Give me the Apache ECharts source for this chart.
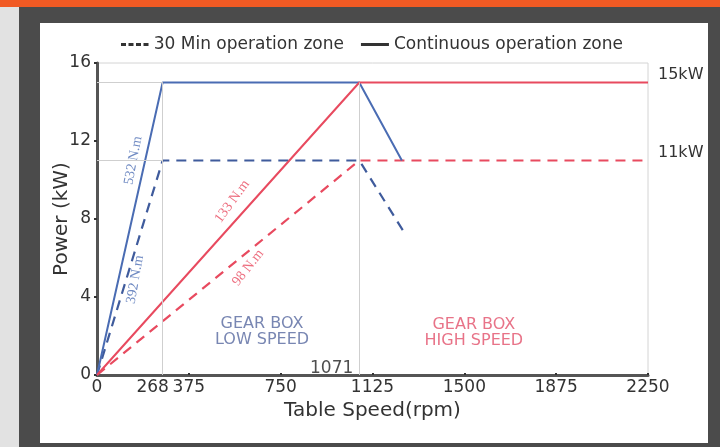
<!DOCTYPE html>
<html>
<head>
<meta charset="utf-8">
<script src="https://cdn.jsdelivr.net/npm/echarts@6/dist/echarts.min.js"></script>
<style>
  html, body { margin: 0; padding: 0; }
  #chart { width: 720px; height: 447px; }
</style>
</head>
<body>
<div id="chart"></div>
<script>
// speed (rpm) / power (kW) break points
const lowContinuous = [[0, 0], [268, 15], [1071, 15], [1245, 11]];
const lowThirtyMin = [[0, 0], [268, 11], [1071, 11], [1250, 7.4]];
const highContinuous = [[0, 0], [1071, 15], [2250, 15]];
const highThirtyMin = [[0, 0], [1071, 11], [2250, 11]];

const xLabelValues = [0, 268, 375, 750, 1125, 1500, 1875, 2250];
const xTickValues = [375, 750, 1125, 1500, 1875, 2250];
const ratedPower = [11, 15];
const baseSpeedLow = 268;
const baseSpeedHigh = 1071;

// torque notes: speed, power, text, angle, colour
const torqueNotes = [
  [148, 11.0, "532 N.m", 79, "#4a6cb3"],
  [156, 4.9, "392 N.m", 80, "#4a6cb3"],
  [552, 8.9, "133 N.m", 54, "#e84a5f"],
  [617, 5.5, "98 N.m", 52, "#e84a5f"]
];
const zoneNotes = [
  [674, 2.2, "GEAR BOX\nLOW SPEED", "#56689f"],
  [1539, 2.15, "GEAR BOX\nHIGH SPEED", "#e2506a"]
];

const BLUE = "#4a6cb3";
const RED = "#e84a5f";
const DASH = [10, 7];
const FONT = "DejaVu Sans";

const chart = echarts.init(document.getElementById("chart"));

const option = {
  backgroundColor: "#4b4b4b",
  animation: false,
  textStyle: { fontFamily: FONT },
  graphic: [
    { type: "rect", z: -10, shape: { x: 0, y: 0, width: 720, height: 7 }, style: { fill: "#f15a24" } },
    { type: "rect", z: -10, shape: { x: 0, y: 7, width: 19, height: 440 }, style: { fill: "#e2e2e2" } },
    { type: "rect", z: -10, shape: { x: 40, y: 23, width: 668, height: 420 }, style: { fill: "#ffffff" } }
  ],
  legend: {
    left: 116,
    top: 31,
    itemWidth: 28,
    itemHeight: 3,
    itemGap: 17,
    textStyle: { fontFamily: FONT, fontSize: 17, color: "#333" },
    data: [
      { name: "30 Min operation zone", icon: "path://M0,0h5v3h-5z M7.5,0h5v3h-5z M15,0h5v3h-5z M22.5,0h5v3h-5z" },
      { name: "Continuous operation zone", icon: "path://M0,0h28v3h-28z" }
    ]
  },
  grid: {
    left: 97,
    right: 72,
    top: 63,
    bottom: 72,
    show: true,
    borderColor: "#d4d4d4",
    borderWidth: 1
  },
  xAxis: {
    type: "value",
    min: 0,
    max: 2250,
    interval: 375,
    name: "Table Speed(rpm)",
    nameLocation: "middle",
    nameGap: 26,
    nameTextStyle: { fontSize: 20, color: "#333", fontFamily: FONT },
    axisLine: { show: true, lineStyle: { color: "#555", width: 3 } },
    axisTick: { show: true, length: 2, inside: true, customValues: xTickValues, lineStyle: { color: "#333", width: 2 } },
    axisLabel: {
      customValues: xLabelValues,
      fontSize: 17,
      color: "#333",
      margin: 4,
      formatter: v => (v === baseSpeedLow ? "{s|" + v + "}" : String(v)),
      rich: { s: { fontSize: 17, color: "#333", fontFamily: FONT, padding: [0, 20, 0, 0] } }
    },
    splitLine: { show: false }
  },
  yAxis: [
    {
      type: "value",
      min: 0,
      max: 16,
      interval: 4,
      name: "Power (kW)",
      nameLocation: "middle",
      nameGap: 25,
      nameMoveOverlap: false,
      nameTextStyle: { fontSize: 20, color: "#333", fontFamily: FONT },
      axisLine: { show: true, lineStyle: { color: "#555", width: 3 } },
      axisTick: { show: true, length: 3, lineStyle: { color: "#333", width: 2 } },
      axisLabel: { fontSize: 17, color: "#333", margin: 6 },
      splitLine: { show: false }
    },
    {
      type: "value",
      min: 0,
      max: 16,
      interval: 4,
      position: "right",
      axisLine: { show: false },
      axisTick: { show: false },
      splitLine: { show: false },
      axisLabel: {
        customValues: ratedPower,
        formatter: "{value}kW",
        fontSize: 16,
        color: "#333",
        margin: 10,
        verticalAlign: "bottom"
      }
    }
  ],
  series: [
    {
      name: "guides",
      type: "line",
      data: [],
      silent: true,
      markLine: {
        symbol: "none",
        silent: true,
        label: { show: false },
        lineStyle: { color: "#cfcfcf", width: 1, type: "solid" },
        data: [
          [{ coord: [baseSpeedLow, 0] }, { coord: [baseSpeedLow, 15] }],
          [{ coord: [baseSpeedHigh, 0] }, { coord: [baseSpeedHigh, 15] }],
          [{ coord: [0, 15] }, { coord: [baseSpeedLow, 15] }],
          [{ coord: [0, 11] }, { coord: [baseSpeedLow, 11] }]
        ]
      }
    },
    {
      name: "30 Min operation zone",
      type: "line",
      data: [],
      symbol: "none",
      itemStyle: { color: "#333" },
      lineStyle: { color: "#333", width: 3, type: [5, 3] }
    },
    {
      name: "Continuous operation zone",
      type: "line",
      data: [],
      symbol: "none",
      itemStyle: { color: "#333" },
      lineStyle: { color: "#333", width: 3 }
    },
    {
      name: "high thirty",
      type: "line",
      data: highThirtyMin,
      symbol: "none",
      lineStyle: { color: RED, width: 2.2, type: DASH }
    },
    {
      name: "low thirty",
      type: "line",
      data: lowThirtyMin,
      symbol: "none",
      lineStyle: { color: "#3f5b9c", width: 2.2, type: DASH }
    },
    {
      name: "low cont",
      type: "line",
      data: lowContinuous,
      symbol: "none",
      lineStyle: { color: BLUE, width: 2 }
    },
    {
      name: "high cont",
      type: "line",
      data: highContinuous,
      symbol: "none",
      lineStyle: { color: RED, width: 2 }
    },
    {
      name: "torque notes",
      type: "scatter",
      symbolSize: 0,
      silent: true,
      data: torqueNotes.map(n => ({
        value: [n[0], n[1]],
        label: {
          show: true,
          position: "inside",
          formatter: n[2],
          rotate: n[3],
          color: n[4],
          fontFamily: "Liberation Serif",
          fontSize: 14
        }
      }))
    },
    {
      name: "zone notes",
      type: "scatter",
      symbolSize: 0,
      silent: true,
      data: zoneNotes.map(n => ({
        value: [n[0], n[1]],
        label: {
          show: true,
          position: "inside",
          formatter: n[2],
          color: n[3],
          fontFamily: FONT,
          fontSize: 16,
          lineHeight: 16,
          align: "center"
        }
      }))
    },
    {
      name: "base speed note",
      type: "scatter",
      symbolSize: 0,
      silent: true,
      data: [{
        value: [baseSpeedHigh, 0],
        label: {
          show: true,
          position: "inside",
          formatter: String(baseSpeedHigh),
          align: "right",
          verticalAlign: "middle",
          offset: [-6, -6],
          color: "#222",
          fontFamily: FONT,
          fontSize: 17
        }
      }]
    }
  ]
};

chart.setOption(option);
</script>
</body>
</html>
